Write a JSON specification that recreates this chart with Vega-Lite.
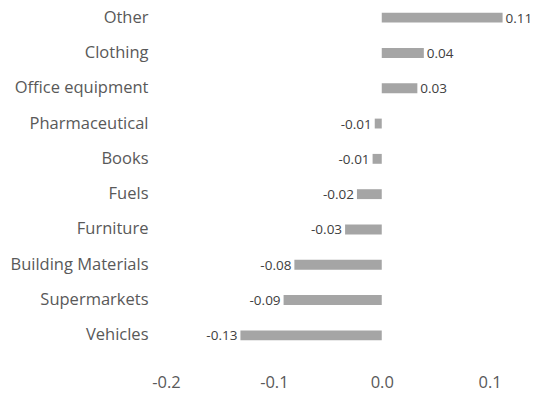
{
  "$schema": "https://vega.github.io/schema/vega-lite/v6.json",
  "width": 356,
  "height": 353,
  "autosize": {"type": "none"},
  "padding": {"left": 166, "top": 0, "right": 12, "bottom": 43},
  "background": "white",
  "config": {
    "view": {"stroke": null},
    "font": "Open Sans",
    "locale": {"number": {"decimal": ".", "thousands": ",", "grouping": [3], "currency": ["$", ""], "minus": "-"}}
  },
  "data": {"values": [
    {"category": "Other", "value": 0.112},
    {"category": "Clothing", "value": 0.039},
    {"category": "Office equipment", "value": 0.033},
    {"category": "Pharmaceutical", "value": -0.0065},
    {"category": "Books", "value": -0.0085},
    {"category": "Fuels", "value": -0.023},
    {"category": "Furniture", "value": -0.034},
    {"category": "Building Materials", "value": -0.081},
    {"category": "Supermarkets", "value": -0.091},
    {"category": "Vehicles", "value": -0.131}
  ]},
  "encoding": {
    "y": {
      "field": "category", "type": "nominal", "sort": null,
      "scale": {"paddingInner": 0.72, "paddingOuter": 0.36},
      "axis": {"title": null, "domain": false, "ticks": false, "labelPadding": 18, "labelFontSize": 16.5, "labelColor": "#595959", "labelFont": "Open Sans"}
    },
    "x": {
      "field": "value", "type": "quantitative",
      "scale": {"domain": [-0.2, 0.13], "nice": false},
      "axis": {"title": null, "domain": false, "ticks": false, "grid": false, "values": [-0.2, -0.1, 0, 0.1], "format": ".1f", "labelPadding": 21, "labelFontSize": 16.5, "labelColor": "#595959", "labelFont": "Open Sans", "labelFlush": false}
    }
  },
  "layer": [
    {"mark": {"type": "bar", "color": "#a5a5a5"}},
    {
      "transform": [{"filter": "datum.value >= 0"}],
      "mark": {"type": "text", "align": "left", "dx": 3, "dy": 1, "fontSize": 13.5, "color": "#404040"},
      "encoding": {"text": {"field": "value", "type": "quantitative", "format": ".2f"}}
    },
    {
      "transform": [{"filter": "datum.value < 0"}],
      "mark": {"type": "text", "align": "right", "dx": -3, "dy": 1, "fontSize": 13.5, "color": "#404040"},
      "encoding": {"text": {"field": "value", "type": "quantitative", "format": ".2f"}}
    }
  ]
}
